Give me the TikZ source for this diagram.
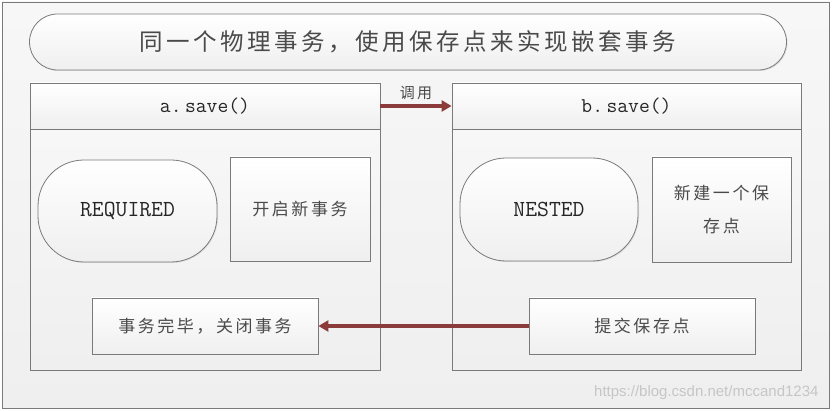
\documentclass[tikz,border=0pt]{standalone}
\usepackage{fontspec}
\newfontfamily\cjk[LetterSpace=15]{Noto Sans CJK SC}
\newfontfamily\web{Liberation Sans}
\usetikzlibrary{arrows.meta,shadows}

\definecolor{marco}{HTML}{7A7A7A}
\definecolor{fondo}{HTML}{EFEFEF}
\definecolor{flecha}{HTML}{8C3B3B}
\definecolor{texto}{HTML}{4A4A4A}

\tikzset{
  sombra/.style={drop shadow={shadow xshift=1pt,shadow yshift=-1pt,opacity=0.18}},
  caja/.style={draw=marco, line width=0.8pt, top color=white, bottom color=fondo,
    sombra, inner sep=0pt, align=center, text=texto,
    font=\cjk\fontsize{17}{33}\selectfont},
  marcobox/.style={draw=marco, line width=0.8pt, top color=fondo!40!white,
    bottom color=fondo, sombra, inner sep=0pt},
  cabecera/.style={caja, font=\ttfamily\fontsize{21}{24}\selectfont, text=black!85},
  ovalo/.style={caja, rounded corners=46pt, font=\ttfamily\fontsize{23}{26}\selectfont, text=black!85},
  llamada/.style={draw=flecha, line width=3.5pt, -{Triangle[length=10pt,width=11pt]}}
}

\begin{document}
\begin{tikzpicture}[x=1pt,y=-1pt]
  \useasboundingbox (0,0) rectangle (832,411);
  % Marco general
  \draw[marco, line width=0.8pt, top color=fondo!50!white, bottom color=fondo] (2,2) rectangle (829,408);

  % Titulo
  \node[caja, rounded corners=28pt, minimum width=757pt, minimum height=56pt,
        font=\cjk\fontsize{23.5}{28}\selectfont] (titulo) at (408,42) {同一个物理事务，使用保存点来实现嵌套事务};

  % Metodo a
  \node[marcobox, minimum width=350pt, minimum height=287pt] (cajaA) at (205,226.5) {};
  \node[cabecera, minimum width=350pt, minimum height=46pt] (cabA) at (205,106) {a.\,save()};
  \node[ovalo, minimum width=179pt, minimum height=102pt] (required) at (127.5,211) {REQUIRED};
  \node[caja, minimum width=140pt, minimum height=104pt] (nuevaTx) at (300,209) {开启新事务};
  \node[caja, minimum width=226pt, minimum height=56pt] (cerrar) at (205,326) {事务完毕，关闭事务};

  % Metodo b
  \node[marcobox, minimum width=349pt, minimum height=287pt] (cajaB) at (626.5,226.5) {};
  \node[cabecera, minimum width=349pt, minimum height=46pt] (cabB) at (626.5,106) {b.\,save()};
  \node[ovalo, minimum width=178pt, minimum height=103pt] (nested) at (549,209.5) {NESTED};
  \node[caja, minimum width=139pt, minimum height=105pt] (nuevoPunto) at (721.5,209.5) {新建一个保\\存点};
  \node[caja, minimum width=226pt, minimum height=56pt] (confirmar) at (642,326) {提交保存点};

  % Flechas
  \draw[llamada] (cabA) -- node[above=1pt, text=texto, font=\cjk\fontsize{15}{18}\selectfont] (etiq) {调用} (cabB);
  \draw[llamada] (confirmar) -- (cerrar);

  % Marca de agua
  \node[anchor=east, text=gray!45, font=\web\fontsize{15}{18}\selectfont] (marca) at (822,393) {https://blog.csdn.net/mccand1234};
\end{tikzpicture}
\end{document}
